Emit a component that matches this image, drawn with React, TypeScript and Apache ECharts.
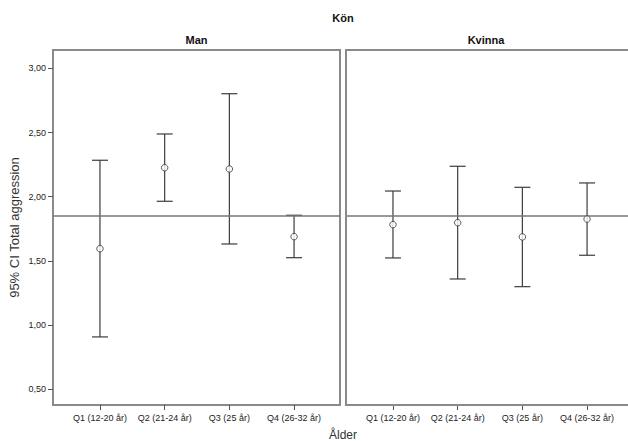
import React, { useEffect, useRef } from "react";
import * as echarts from "echarts";

const categories = ["Q1 (12-20 år)", "Q2 (21-24 år)", "Q3 (25 år)", "Q4 (26-32 år)"];
const panels = ["Man", "Kvinna"];
const manMean = [1.594, 2.226, 2.216, 1.688];
const manLow = [0.906, 1.964, 1.631, 1.524];
const manHigh = [2.284, 2.489, 2.803, 1.855];
const kvinnaMean = [1.782, 1.797, 1.686, 1.825];
const kvinnaLow = [1.522, 1.358, 1.298, 1.543];
const kvinnaHigh = [2.044, 2.237, 2.073, 2.107];
const yTicks = [0.5, 1.0, 1.5, 2.0, 2.5, 3.0];
const refLine = 1.852;

const FONT = "'Liberation Sans', Arial, sans-serif";

export default function App() {
  const ref = useRef<HTMLDivElement>(null);
  useEffect(() => {
    if (!ref.current) return;
    const chart = echarts.init(ref.current, null, { renderer: "svg" });
    const xPos = categories.map((_, i) => i + 1);
    const groups = [
      { mean: manMean, low: manLow, high: manHigh },
      { mean: kvinnaMean, low: kvinnaLow, high: kvinnaHigh },
    ];
    const gridLefts = [53, 346];
    const gridWidths = [287, 300];
    const xMax = [4.71, 4.911];
    const grids = gridLefts.map((l, i) => ({
      left: l,
      top: 50,
      width: gridWidths[i],
      height: 355,
      show: i === 0,
      borderColor: "#8a8a8a",
      borderWidth: 2,
      backgroundColor: "#fff",
      containLabel: false,
      outerBoundsMode: "none",
    }));
    const xAxes = gridLefts.map((_, i) => ({
      type: "value",
      gridIndex: i,
      min: 0.274,
      max: xMax[i],
      splitLine: { show: false },
      axisLine: { show: false },
      axisTick: {
        show: true,
        customValues: xPos,
        length: 5,
        lineStyle: { color: "#555", width: 1 },
      },
      axisLabel: {
        customValues: xPos,
        formatter: (v: number) => categories[Math.round(v) - 1] ?? "",
        fontSize: 9,
        color: "#222",
        fontFamily: FONT,
        margin: 8,
      },
    }));
    const yAxes = gridLefts.map((_, i) => ({
      type: "value",
      gridIndex: i,
      min: 0.375,
      max: 3.144,
      splitLine: { show: false },
      axisLine: { show: false },
      axisTick: {
        show: i === 0,
        customValues: yTicks,
        length: 5,
        lineStyle: { color: "#555", width: 1 },
      },
      axisLabel: {
        show: i === 0,
        customValues: yTicks,
        formatter: (v: number) => v.toFixed(2).replace(".", ","),
        fontSize: 9,
        color: "#222",
        fontFamily: FONT,
        margin: 7,
      },
      name: i === 0 ? "95% CI Total aggression" : "",
      nameLocation: "middle",
      nameGap: 32,
      nameTextStyle: { fontSize: 13, color: "#333", fontFamily: FONT },
    }));
    const series: any[] = [];
    groups.forEach((g, i) => {
      series.push({
        type: "custom",
        xAxisIndex: i,
        yAxisIndex: i,
        data: xPos.map((x, k) => [x, g.low[k], g.high[k]]),
        encode: { x: 0, y: [1, 2] },
        z: 2,
        renderItem: (params: any, api: any) => {
          const x = api.value(0);
          const pLo = api.coord([x, api.value(1)]);
          const pHi = api.coord([x, api.value(2)]);
          const w = 8;
          const style = { stroke: "#3c3c3c", lineWidth: 1.2 };
          return {
            type: "group",
            children: [
              { type: "line", shape: { x1: pLo[0], y1: pLo[1], x2: pHi[0], y2: pHi[1] }, style },
              { type: "line", shape: { x1: pHi[0] - w, y1: pHi[1], x2: pHi[0] + w, y2: pHi[1] }, style },
              { type: "line", shape: { x1: pLo[0] - w, y1: pLo[1], x2: pLo[0] + w, y2: pLo[1] }, style },
            ],
          };
        },
      });
      series.push({
        type: "scatter",
        xAxisIndex: i,
        yAxisIndex: i,
        data: xPos.map((x, k) => [x, g.mean[k]]),
        symbol: "circle",
        symbolSize: 6.5,
        z: 5,
        itemStyle: { color: "#fff", borderColor: "#333", borderWidth: 1 },
        markLine: {
          silent: true,
          symbol: ["none", "none"],
          label: { show: false },
          lineStyle: { color: "#777", width: 1.5, type: "solid" },
          data: [{ yAxis: refLine }],
        },
      });
    });
    chart.setOption({
      animation: false,
      backgroundColor: "#fff",
      grid: grids,
      xAxis: xAxes,
      yAxis: yAxes,
      series,
      graphic: [
        {
          type: "polyline",
          z: 10,
          shape: { points: [[640, 50], [346, 50], [346, 405], [640, 405]] },
          style: { stroke: "#8a8a8a", lineWidth: 2, fill: null },
        },
        {
          type: "text",
          x: 343,
          y: 18,
          style: { text: "Kön", font: `bold 11px ${FONT}`, fill: "#111", textAlign: "center", textVerticalAlign: "middle" },
        },
        {
          type: "text",
          x: 53 + 287 / 2,
          y: 40,
          style: { text: panels[0], font: `bold 11px ${FONT}`, fill: "#111", textAlign: "center", textVerticalAlign: "middle" },
        },
        {
          type: "text",
          x: 346 + 280 / 2,
          y: 40,
          style: { text: panels[1], font: `bold 11px ${FONT}`, fill: "#111", textAlign: "center", textVerticalAlign: "middle" },
        },
        {
          type: "text",
          x: 343,
          y: 435,
          style: { text: "Ålder", font: `12px ${FONT}`, fill: "#333", textAlign: "center", textVerticalAlign: "middle" },
        },
      ],
    });
    return () => chart.dispose();
  }, []);
  return <div ref={ref} style={{ width: 628, height: 441, position: "absolute", left: 0, top: 0 }} />;
}
